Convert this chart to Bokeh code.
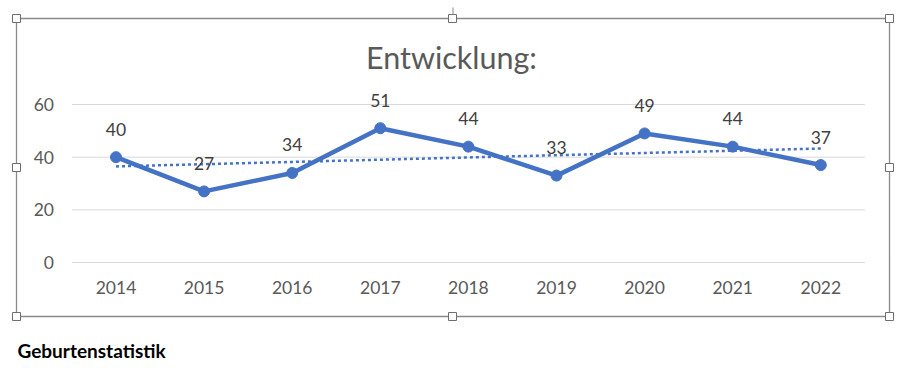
import numpy as np
from bokeh.plotting import figure
from bokeh.models import (ColumnDataSource, LabelSet, Label, BoxAnnotation,
                          FixedTicker, Range1d)
from bokeh.core.properties import value
from bokeh.embed import file_html
from bokeh.resources import INLINE

# ---- data ----
years = [2014, 2015, 2016, 2017, 2018, 2019, 2020, 2021, 2022]
births = [40, 27, 34, 51, 44, 33, 49, 44, 37]
y_ticks = [0, 20, 40, 60]
title_text = "Entwicklung:"
caption_text = "Geburtenstatistik"

# linear trendline (least squares over the series, like Excel's trendline)
slope, intercept = np.polyfit(np.arange(len(births)), births, 1)
trend_x = [years[0], years[-1]]
trend_y = [float(intercept), float(intercept + slope * (len(births) - 1))]

W, H = 907, 368
FONT = "Lato"
BLUE = "#4472C4"

# category band edges of the plot area
x_lo, x_hi = years[0] - 0.5, years[-1] + 0.5

p = figure(width=W, height=H,
           x_range=Range1d(2012.689, 2022.984),
           y_range=Range1d(-40.25, 99.49),
           output_backend="svg", toolbar_location=None, title=None,
           min_border=0, min_border_left=0, min_border_right=0,
           min_border_top=0, min_border_bottom=0)
p.outline_line_color = None
p.background_fill_color = "white"
p.border_fill_color = "white"
p.xgrid.visible = False
p.ygrid.visible = False

# axes, drawn inside the frame
for ax in (p.xaxis, p.yaxis):
    ax.axis_line_color = None
    ax.major_tick_line_color = None
    ax.minor_tick_line_color = None
    ax.major_tick_out = 0
    ax.major_tick_in = 0
    ax.major_label_text_font = FONT
    ax.major_label_text_font_size = "17.5px"
    ax.major_label_text_color = "#595959"
p.xaxis.ticker = FixedTicker(ticks=years)
p.xaxis.fixed_location = 0
p.xaxis.major_label_standoff = 18
p.yaxis.ticker = FixedTicker(ticks=y_ticks)
p.yaxis.fixed_location = x_lo
p.yaxis.major_label_standoff = 18

# horizontal gridlines across the plot area
p.segment(x0=[x_lo] * len(y_ticks), x1=[x_hi] * len(y_ticks),
          y0=y_ticks, y1=y_ticks, line_color="#d9d9d9", line_width=1)

# series
p.line(years, births, line_width=4.5, color=BLUE, line_join="round")
p.scatter(years, births, size=11, color=BLUE)
p.line(trend_x, trend_y, line_width=2.5, color=BLUE, line_dash="3 3")

src = ColumnDataSource(dict(x=years, y=births, t=[str(v) for v in births]))
p.add_layout(LabelSet(x="x", y="y", text="t", source=src, y_offset=28,
                      text_align="center", text_baseline="middle",
                      text_font=value(FONT), text_font_size="17.5px",
                      text_color="#404040"))

# title and caption
p.add_layout(Label(x=451, y=56, x_units="canvas", y_units="canvas",
                   text=title_text, text_align="center",
                   text_baseline="middle", text_font=FONT,
                   text_font_size="30.5px", text_color="#595959"))
p.add_layout(Label(x=17, y=350, x_units="canvas", y_units="canvas",
                   text=caption_text, text_align="left",
                   text_baseline="middle", text_font=FONT,
                   text_font_size="19px", text_font_style="bold",
                   text_color="black"))

# chart frame (selection border)
p.add_layout(BoxAnnotation(left=16, right=889, top=18, bottom=316,
                           left_units="canvas", right_units="canvas",
                           top_units="canvas", bottom_units="canvas",
                           fill_color=None, line_color="#8a8a8a",
                           line_alpha=1, line_width=1.3))
# rotation handle stem
p.add_layout(BoxAnnotation(left=452, right=453, top=7, bottom=14,
                           left_units="canvas", right_units="canvas",
                           top_units="canvas", bottom_units="canvas",
                           fill_color="#8a8a8a", fill_alpha=1,
                           line_color=None))
handles = [(16, 18), (452, 18), (889, 18), (16, 167),
           (889, 167), (16, 316), (452, 316), (889, 316)]
for hx, hy in handles:
    p.add_layout(BoxAnnotation(left=hx - 4, right=hx + 4,
                               top=hy - 4, bottom=hy + 4,
                               left_units="canvas", right_units="canvas",
                               top_units="canvas", bottom_units="canvas",
                               fill_color="white", fill_alpha=1,
                               line_color="#6e6e6e", line_alpha=1,
                               line_width=1))

open("out.html", "w").write(file_html(p, INLINE))
